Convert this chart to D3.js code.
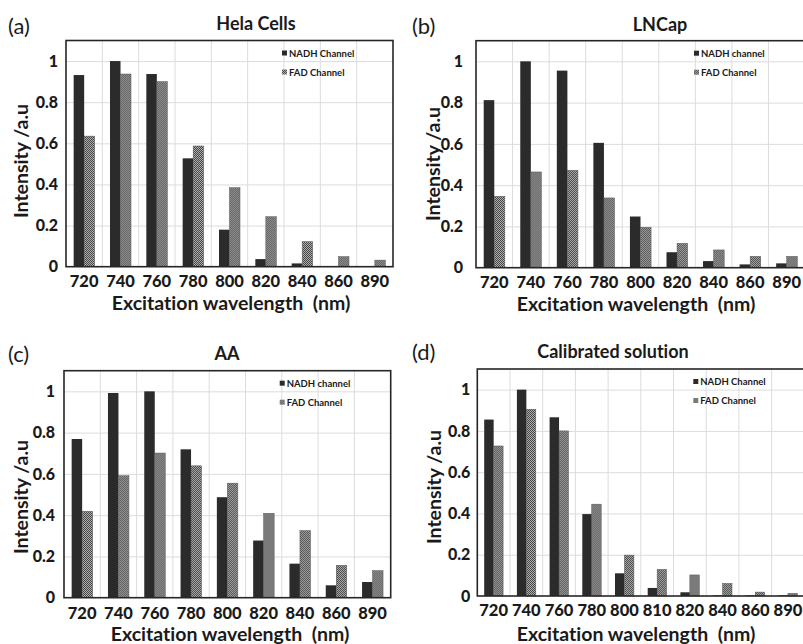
<!DOCTYPE html>
<html><head><meta charset="utf-8">
<script src="https://cdn.jsdelivr.net/npm/d3@7/dist/d3.min.js"></script>
<style>
body{margin:0;background:#fff;}
svg{display:block;}
text{font-family:Lato,"Open Sans",sans-serif;font-variant-ligatures:none;white-space:pre;}
</style></head>
<body><svg id="chart" width="803" height="644"></svg>
<script>
// ---------- data ----------
const categoriesABC = ["720","740","760","780","800","820","840","860","890"];
const categoriesD   = ["720","740","760","780","800","810","820","840","860","890"];
const yTicks = [0, 0.2, 0.4, 0.6, 0.8, 1];
const yTickLabels = ["0","0.2","0.4","0.6","0.8","1"];

const helaNADH = [0.932, 1.0, 0.937, 0.527, 0.180, 0.037, 0.016, 0.002, 0.002];
const helaFAD  = [0.635, 0.937, 0.900, 0.587, 0.384, 0.243, 0.122, 0.049, 0.032];

const lncapNADH = [0.812, 1.0, 0.955, 0.605, 0.248, 0.075, 0.032, 0.016, 0.021];
const lncapFAD  = [0.346, 0.464, 0.472, 0.338, 0.196, 0.118, 0.086, 0.055, 0.055];

const aaNADH = [0.769, 0.992, 1.0, 0.719, 0.487, 0.277, 0.165, 0.060, 0.076];
const aaFAD  = [0.419, 0.591, 0.701, 0.639, 0.555, 0.409, 0.325, 0.157, 0.131];

const calNADH = [0.855, 1.0, 0.866, 0.397, 0.110, 0.039, 0.018, 0.003, 0.003, 0.003];
const calFAD  = [0.727, 0.905, 0.800, 0.445, 0.198, 0.129, 0.102, 0.061, 0.019, 0.013];

const panelLabels = ["(a)","(b)","(c)","(d)"];
const panelTitles = ["Hela Cells","LNCap","AA","Calibrated solution"];
const legendNADH = ["NADH Channel","NADH channel","NADH channel","NADH Channel"];
const legendFAD  = ["FAD Channel","FAD Channel","FAD Channel","FAD Channel"];
const xTitle = "Excitation wavelength  (nm)";
const yTitle = "Intensity /a.u";

// ---------- layout ----------
const panels = [
  {cats:categoriesABC, nadh:helaNADH,  fad:helaFAD,  l:66,    t:40.5,  r:393,   b:266.7, tickOff:8,  yTitleX:20,  yTitleY:161, xTitleX:231, xTitleY:310, xTickY:287, titleX:256, titleY:30,  labX:8,   labY:34},
  {cats:categoriesABC, nadh:lncapNADH, fad:lncapFAD, l:476,   t:40.7,  r:805,   b:267.7, tickOff:13, yTitleX:432, yTitleY:164, xTitleX:636, xTitleY:311, xTickY:288, titleX:660, titleY:31,  labX:412, labY:34},
  {cats:categoriesABC, nadh:aaNADH,    fad:aaFAD,    l:64,    t:370.7, r:390.7, b:597.7, tickOff:9,  yTitleX:20,  yTitleY:497, xTitleX:230, xTitleY:641, xTickY:619, titleX:227, titleY:360, labX:8,   labY:362},
  {cats:categoriesD,   nadh:calNADH,   fad:calFAD,   l:477.3, t:369,   r:804.3, b:596,   tickOff:7,  yTitleX:433, yTitleY:487, xTitleX:636, xTitleY:641, xTickY:616, titleX:613, titleY:358, labX:412, labY:360}
];

const svg = d3.select("#chart");
const defs = svg.append("defs");
const pat = defs.append("pattern").attr("id","check").attr("patternUnits","userSpaceOnUse")
  .attr("width",2).attr("height",2);
pat.append("rect").attr("width",2).attr("height",2).attr("fill","#b0b0b0");
pat.append("rect").attr("width",1).attr("height",1).attr("fill","#444");
pat.append("rect").attr("x",1).attr("y",1).attr("width",1).attr("height",1).attr("fill","#444");

const NADH_COLOR = "#2b2b2b";
const TXT = "#1a1a1a";

panels.forEach((p, i) => {
  const g = svg.append("g");
  const x = d3.scaleBand().domain(p.cats).range([p.l, p.r]).padding(0);
  const inner = d3.scaleBand().domain(["NADH","FAD"]).range([0, x.bandwidth()]).paddingInner(0).paddingOuter(0.73);
  const y = d3.scaleLinear().domain([0, 1.1]).range([p.b, p.t]);

  // horizontal grid
  g.append("g").attr("transform",`translate(${p.l},0)`)
    .call(d3.axisLeft(y).tickValues(yTicks.slice(1)).tickSize(-(p.r-p.l)).tickFormat(""))
    .call(s => s.select(".domain").remove())
    .call(s => s.selectAll("line").attr("stroke","#dcdcdc").attr("stroke-width",1));
  // vertical grid at category boundaries
  g.append("g").selectAll("line").data(p.cats.slice(1)).join("line")
    .attr("x1", d => x(d)).attr("x2", d => x(d))
    .attr("y1", p.t).attr("y2", p.b)
    .attr("stroke","#dcdcdc").attr("stroke-width",1);

  // bars
  const rows = p.cats.map((c, k) => ({cat:c, nadh:p.nadh[k], fad:p.fad[k]}));
  const grp = g.append("g").selectAll("g").data(rows).join("g")
    .attr("transform", d => `translate(${x(d.cat)},0)`);
  grp.append("rect")
    .attr("x", inner("NADH")).attr("width", inner.bandwidth())
    .attr("y", d => y(d.nadh)).attr("height", d => y(0) - y(d.nadh))
    .attr("fill", NADH_COLOR);
  grp.append("rect")
    .attr("x", inner("FAD")).attr("width", inner.bandwidth())
    .attr("y", d => y(d.fad)).attr("height", d => y(0) - y(d.fad))
    .attr("fill", "url(#check)").attr("stroke","#555").attr("stroke-width",0.5);

  // frame
  g.append("rect").attr("x",p.l).attr("y",p.t).attr("width",p.r-p.l).attr("height",p.b-p.t)
    .attr("fill","none").attr("stroke","#262626").attr("stroke-width",1.6);

  // y axis labels
  g.append("g").attr("transform",`translate(${p.l - p.tickOff},0)`)
    .call(d3.axisLeft(y).tickValues(yTicks).tickSize(0).tickPadding(0)
      .tickFormat((d, k) => yTickLabels[k]))
    .call(s => s.select(".domain").remove())
    .call(s => s.selectAll("text").attr("font-family","Lato, sans-serif").attr("font-weight","900")
      .attr("font-size",16).attr("fill",TXT));

  // x tick labels
  g.append("g").selectAll("text").data(p.cats).join("text")
    .attr("x", d => x(d) + x.bandwidth()/2).attr("y", p.xTickY)
    .attr("text-anchor","middle").attr("font-weight","900").attr("font-size",16.5).attr("fill",TXT)
    .text(d => d);

  // axis titles
  g.append("text").attr("x",p.xTitleX).attr("y",p.xTitleY).attr("text-anchor","middle")
    .attr("font-weight","bold").attr("font-size",19.5).attr("fill",TXT).text(xTitle);
  g.append("text").attr("transform",`translate(${p.yTitleX},${p.yTitleY}) rotate(-90)`)
    .attr("text-anchor","middle").attr("dominant-baseline","central")
    .attr("font-weight","bold").attr("font-size",19.5).attr("fill",TXT).text(yTitle);

  // title + panel label
  g.append("text").attr("x",p.titleX).attr("y",p.titleY).attr("text-anchor","middle")
    .attr("font-weight","bold").attr("font-size",18).attr("fill",TXT).text(panelTitles[i]);
  g.append("text").attr("x",p.labX).attr("y",p.labY)
    .attr("font-family","'Liberation Sans', Arial, sans-serif").attr("font-size",22).attr("fill",TXT)
    .text(panelLabels[i]);

  // legend
  const lx = p.r - 111;
  const leg = [
    {label:legendNADH[i], fill:NADH_COLOR, dy:12.5},
    {label:legendFAD[i], fill:"url(#check)", dy:31.5}
  ];
  const lg = g.append("g").selectAll("g").data(leg).join("g")
    .attr("transform", d => `translate(${lx},${p.t + d.dy})`);
  lg.append("rect").attr("x",0).attr("y",-2.5).attr("width",5).attr("height",5).attr("fill", d => d.fill);
  lg.append("text").attr("x",7).attr("y",0).attr("dominant-baseline","central")
    .attr("font-weight","bold").attr("font-size",9.5).attr("fill",TXT).text(d => d.label);
});
</script>
</body></html>
